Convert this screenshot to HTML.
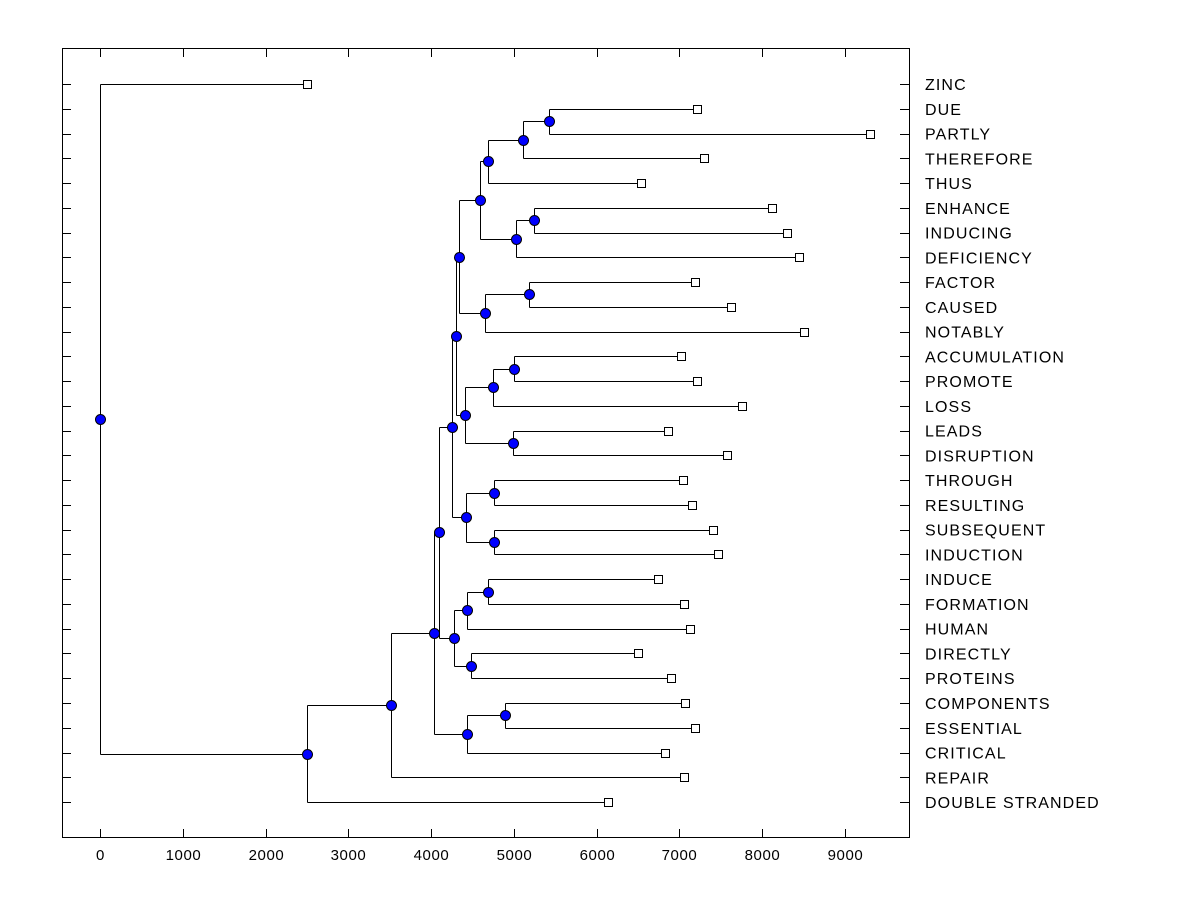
<!DOCTYPE html>
<html><head><meta charset="utf-8"><style>
html,body{margin:0;padding:0;background:#fff;}
svg{display:block;font-family:"Liberation Sans",Arial,sans-serif;}
line,rect.frame{shape-rendering:crispEdges;}
</style></head><body>
<svg id="chart" width="1200" height="900" xmlns="http://www.w3.org/2000/svg">
<rect class="frame" x="62.5" y="48.5" width="847" height="789" fill="none" stroke="#000" stroke-width="1"/>
<g id="ticks"></g><g id="links"></g><g id="marks"></g><g id="labels"></g>
</svg>
<script>
const leaves = ["ZINC","DUE","PARTLY","THEREFORE","THUS","ENHANCE","INDUCING","DEFICIENCY","FACTOR","CAUSED","NOTABLY","ACCUMULATION","PROMOTE","LOSS","LEADS","DISRUPTION","THROUGH","RESULTING","SUBSEQUENT","INDUCTION","INDUCE","FORMATION","HUMAN","DIRECTLY","PROTEINS","COMPONENTS","ESSENTIAL","CRITICAL","REPAIR","DOUBLE STRANDED"];
const leafValues = [2500,7215,9305,7300,6538,8121,8302,8447,7190,7625,8508,7021,7215,7758,6864,7577,7045,7154,7408,7468,6743,7057,7130,6502,6900,7070,7190,6828,7057,6139];
const mergeIds = ["M0","M1","M2","M3","M4","M5","M6","M7","M8","M9","M10","M11","M12","M13","M15","M16","M17","M18","M19","M20","M21","M22","M23","M24","M25","M27","M28","M29","ROOT"];
const mergeChildA = ["L1","M0","M1","L5","M3","M2","L8","M6","M5","L11","M9","L14","M10","M8","L16","L18","M15","M13","L20","M19","L23","M20","M18","L25","M24","M23","M27","M28","L0"];
const mergeChildB = ["L2","L3","L4","L6","L7","M4","L9","L10","M7","L12","L13","L15","M11","M12","L17","L19","M16","M17","L21","L22","L24","M21","M22","L26","L27","M25","L28","L29","M29"];
const mergeHeights = [5426,5112,4689,5245,5027,4592,5184,4653,4338,5003,4749,4991,4411,4302,4761,4761,4423,4254,4689,4435,4483,4278,4097,4894,4435,4036,3517,2500,0];
const xTicks = [0,1000,2000,3000,4000,5000,6000,7000,8000,9000];
</script>
<script>
const tree = {}, h = {};
mergeIds.forEach((id,i)=>{tree[id]=[mergeChildA[i],mergeChildB[i]];h[id]=mergeHeights[i];});
const NS="http://www.w3.org/2000/svg";
const xs = v => 100 + v*0.08275;
const ys = i => 84 + i*24.76;
function mk(tag, attrs, parent){const e=document.createElementNS(NS,tag);for(const k in attrs)e.setAttribute(k,attrs[k]);document.getElementById(parent).appendChild(e);return e;}
const r5 = v => Math.round(v)+0.5;
function pos(id){
  if(id[0]==="L"){const i=+id.slice(1);return {x:xs(leafValues[i]),y:ys(i)};}
  const [a,b]=tree[id].map(pos);
  return {x:xs(h[id]),y:(a.y+b.y)/2};
}
function draw(id){
  if(id[0]==="L")return pos(id);
  const p=pos(id);
  const kids=tree[id].map(draw);
  const v=mk("line",{x1:r5(p.x),y1:r5(kids[0].y),x2:r5(p.x),y2:r5(kids[1].y),stroke:"#000","stroke-width":1},"links");
  
  
  kids.forEach(k=>{
    const l=mk("line",{x1:r5(p.x),y1:r5(k.y),x2:r5(k.x),y2:r5(k.y),stroke:"#000","stroke-width":1},"links");
    
    
  });
  const c=mk("circle",{cx:r5(p.x),cy:r5(p.y),r:5,fill:"#0000ff",stroke:"#000","stroke-width":1},"marks");
  
  
  return p;
}
draw("ROOT");
leaves.forEach((name,i)=>{
  const x=xs(leafValues[i]), y=ys(i);
  const r=mk("rect",{x:Math.round(x)-3.5,y:Math.round(y)-3.5,width:8,height:8,fill:"#fff",stroke:"#000","stroke-width":1,"shape-rendering":"crispEdges"},"marks");
  
  
  const t=mk("text",{x:925,y:y+6,"font-size":16,"letter-spacing":"1.1",fill:"#000"},"labels");
  t.textContent=name;
  
  
  const tl=mk("line",{x1:62,y1:r5(y),x2:71,y2:r5(y),stroke:"#000"},"ticks");
  
  
  const tr=mk("line",{x1:900,y1:r5(y),x2:909,y2:r5(y),stroke:"#000"},"ticks");
  
  
});
xTicks.forEach(v=>{
  const x=r5(xs(v));
  const b=mk("line",{x1:x,y1:829,x2:x,y2:838,stroke:"#000"},"ticks");
  
  
  const tp=mk("line",{x1:x,y1:48,x2:x,y2:57,stroke:"#000"},"ticks");
  
  
  const t=mk("text",{x:x,y:860,"font-size":15,"letter-spacing":"0.6","text-anchor":"middle",fill:"#000"},"labels");
  t.textContent=v;
  
  
});
</script>
</body></html>
